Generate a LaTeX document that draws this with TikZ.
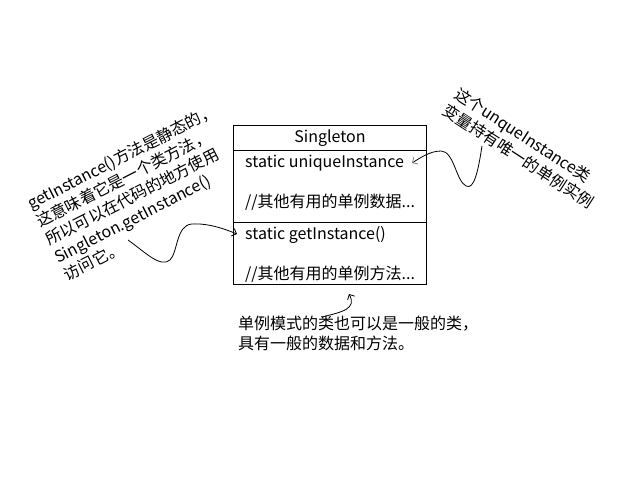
\documentclass[tikz,border=0pt]{standalone}
\usepackage{fontspec}
\setmainfont{Noto Sans CJK SC}
\usetikzlibrary{arrows.meta}
\begin{document}
\begin{tikzpicture}[x=1pt,y=-1pt,
  txt/.style={inner sep=0pt, anchor=base west, font=\fontsize{16}{20}\selectfont},
  conn/.style={line width=0.8pt, -{Straight Barb[length=4pt,width=8pt]}},
  boxline/.style={line width=0.8pt}]
\useasboundingbox (0,0) rectangle (640,480);
% class box
\node[draw, boxline, inner sep=0pt, anchor=north west, minimum width=193pt, minimum height=159pt] (cls) at (233,125) {};
\draw[boxline] (cls.west |- 0,150) -- (cls.east |- 0,150);
\draw[boxline] (cls.west |- 0,222) -- (cls.east |- 0,222);
\node[txt, anchor=base] (title) at (330,142) {Singleton};
\node[txt] (attr1) at (245,167.5) {static uniqueInstance};
\node[txt] (attr2) at (245,207.5) {//其他有用的单例数据...};
\node[txt] (meth1) at (245,239.5) {static getInstance()};
\node[txt] (meth2) at (245,279) {//其他有用的单例方法...};
% bottom note
\node[txt] (note1) at (238,329) {单例模式的类也可以是一般的类，};
\node[txt] (note2) at (238,349) {具有一般的数据和方法。};
% left note
\begin{scope}[shift={(31,210)}, rotate=27, transform shape]
\node[txt] (l1) at (0,0) {getInstance()方法是静态的，};
\node[txt] (l2) at (0,20) {这意味着它是一个类方法，};
\node[txt] (l3) at (0,40) {所以可以在代码的地方使用};
\node[txt] (l4) at (0,60) {Singleton.getInstance()};
\node[txt] (l5) at (0,80) {访问它。};
\end{scope}
% right note
\begin{scope}[shift={(453,97)}, rotate=-33, transform shape]
\node[txt] (r1) at (0,0) {这个unqueInstance类};
\node[txt] (r2) at (-1,20) {变量持有唯一的单例实例};
\end{scope}
% connectors
\coordinate (aT) at (128,240);
\coordinate (aH) at (237,234);
\draw[conn] (aT) .. controls (145,252) and (160,268) .. (170,260)
  .. controls (178,252) and (176,225) .. (192,224)
  .. controls (208,223) and (225,229) .. (aH);
\coordinate (bT) at (482,146);
\coordinate (bH) at (412,163);
\draw[line width=0.8pt, -{Straight Barb[length=4pt,width=8pt,color=gray]}] (bT) .. controls (478,172) and (474,190) .. (466,186)
  .. controls (456,181) and (454,151) .. (441,151)
  .. controls (430,151) and (420,158) .. (bH);
\coordinate (cT) at (322,317);
\coordinate (cH) at (349,294);
\draw[conn] (cT) .. controls (342,312) and (357,309) .. (cH);
\end{tikzpicture}
\end{document}
